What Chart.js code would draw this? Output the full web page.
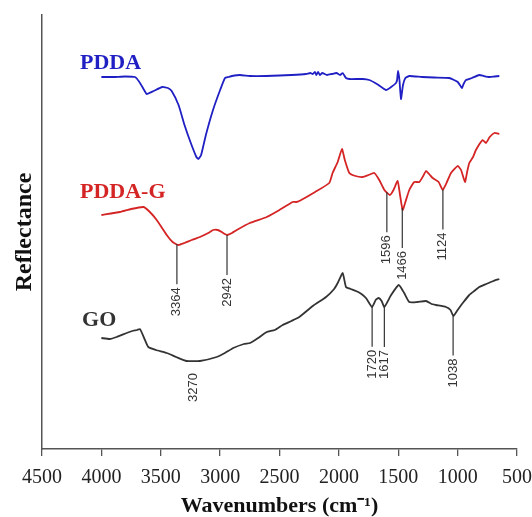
<!DOCTYPE html>
<html>
<head>
<meta charset="utf-8">
<script src="https://cdn.jsdelivr.net/npm/chart.js@4.4.1/dist/chart.umd.min.js"></script>
<style>
  html, body { margin: 0; padding: 0; background: #fff; }
  #wrap { width: 532px; height: 517px; }
</style>
</head>
<body>
<div id="wrap"><canvas id="ftir"></canvas></div>
<script>
// x axis ticks (cm-1), axis runs high -> low
const xTicks = [4500, 4000, 3500, 3000, 2500, 2000, 1500, 1000, 500];

// PDDA spectrum (wavenumber, reflectance in arbitrary units)
const pddaWn = [4000, 3900, 3800, 3717, 3680, 3640, 3618, 3560, 3487, 3440, 3408, 3350, 3300, 3250, 3200, 3184, 3160, 3120, 3060, 3000,
  2959, 2930, 2900, 2833, 2750, 2614, 2500, 2400, 2277, 2240, 2220, 2200, 2190, 2175, 2160, 2140, 2100, 2060, 2020, 1990,
  1968, 1940, 1912, 1800, 1744, 1680, 1603, 1560, 1519, 1510, 1502, 1490, 1477, 1460, 1440, 1407, 1300, 1200, 1070, 1030,
  999, 975, 963, 950, 930, 880, 817, 780, 733, 690, 649];
const pddaVal = [372, 372, 372.5, 372, 367, 359, 355, 358, 362, 361, 358, 344, 324, 307, 292, 290, 294, 314, 339, 359,
  371, 372, 373, 374, 373, 373, 373.5, 374, 375, 376, 375, 377, 374, 377, 374, 376, 374, 375, 376, 374,
  376, 371, 370, 370, 369, 365, 359, 362, 366, 369, 378, 369, 350, 364, 371, 373, 372, 371.5, 371, 369,
  367, 363, 361, 365, 369, 371, 374, 373, 372, 372.5, 373];

// PDDA-G spectrum
const pddagWn = [4000, 3843, 3750, 3647, 3600, 3534, 3450, 3400, 3352, 3300, 3240, 3170, 3100, 3058, 3020, 2987, 2960, 2940, 2900, 2860,
  2750, 2608, 2500, 2389, 2360, 2333, 2200, 2081, 2053, 2010, 1974, 1950, 1912, 1860, 1800, 1750, 1702, 1660, 1617, 1570,
  1540, 1505, 1485, 1463, 1440, 1407, 1365, 1323, 1290, 1266, 1240, 1210, 1160, 1126, 1090, 1056, 999, 971, 938, 920,
  902, 870, 846, 789, 761, 730, 691, 649];
const pddagVal = [234, 237, 240, 242, 238, 229, 214, 207, 204, 206, 209, 212, 216, 219, 219, 217, 215, 214, 216, 219,
  226, 232, 239, 247, 247, 248, 257, 266, 276, 287, 300, 289, 276, 273, 272, 274, 276, 269, 259, 254,
  259, 268, 254, 239, 247, 259, 267, 267, 273, 278, 275, 271, 267, 259, 267, 276, 283, 279, 267, 277,
  286, 292, 299, 309, 306, 312, 316, 315];

// GO spectrum
const goWn = [4000, 3930, 3871, 3787, 3740, 3700, 3675, 3640, 3605, 3540, 3450, 3370, 3282, 3170, 3029, 2960, 2889, 2800, 2748, 2680,
  2608, 2540, 2473, 2400, 2333, 2220, 2108, 2040, 2010, 1968, 1940, 1900, 1856, 1810, 1772, 1721, 1690, 1665, 1640, 1617,
  1560, 1496, 1450, 1407, 1340, 1266, 1220, 1182, 1098, 1060, 1036, 1000, 950, 902, 860, 817, 760, 700, 649];
const goVal = [111, 110, 112, 116, 118, 119, 120, 111, 102, 99, 96, 92, 88, 88, 92, 96, 101, 105, 106, 111,
  117, 119, 124, 128, 132, 143, 152, 160, 166, 176, 162, 160, 158, 155, 151, 142, 149, 151, 148, 142,
  154, 164, 156, 147, 147, 148, 145, 144, 142, 139, 133, 139, 147, 154, 158, 162, 165, 168, 170];

// marked bands
const peakSeries = ['PDDA-G', 'PDDA-G', 'PDDA-G', 'PDDA-G', 'PDDA-G', 'GO', 'GO', 'GO', 'GO'];
const peakWn = [3364, 2942, 1596, 1466, 1124, 3270, 1720, 1617, 1038];
const peakLine = [true, true, true, true, true, false, true, true, true];

const seriesNames = ['PDDA', 'PDDA-G', 'GO'];
const seriesColors = ['#1f1fc4', '#d42424', '#333333'];

const toPoints = (wn, val) => wn.map((w, i) => ({ x: w, y: val[i] }));

const curveAt = (pts, w) => {
  for (let i = 0; i < pts.length - 1; i++) {
    if (pts[i].x >= w && pts[i + 1].x <= w) {
      const t = (pts[i].x - w) / (pts[i].x - pts[i + 1].x);
      return pts[i].y + t * (pts[i + 1].y - pts[i].y);
    }
  }
  return pts[pts.length - 1].y;
};

const datasets = [
  { label: seriesNames[0], data: toPoints(pddaWn, pddaVal) },
  { label: seriesNames[1], data: toPoints(pddagWn, pddagVal) },
  { label: seriesNames[2], data: toPoints(goWn, goVal) }
].map((d, i) => ({
  ...d,
  borderColor: seriesColors[i],
  borderWidth: 1.8,
  pointRadius: 0,
  tension: 0.15,
  fill: false
}));

// name tags and peak annotations
const annotate = {
  id: 'annotate',
  afterDatasetsDraw(chart) {
    const ctx = chart.ctx;
    const xs = chart.scales.x, ys = chart.scales.y;
    ctx.save();

    // series names, anchored in data space
    const nameAt = [[4180, 386], [4180, 257], [4163, 129]];
    ctx.font = 'bold 22px "Liberation Serif", serif';
    ctx.textAlign = 'left';
    ctx.textBaseline = 'middle';
    seriesNames.forEach((n, i) => {
      ctx.fillStyle = seriesColors[i];
      ctx.fillText(n, xs.getPixelForValue(nameAt[i][0]), ys.getPixelForValue(nameAt[i][1]));
    });

    // drop lines + rotated wavenumber labels
    ctx.strokeStyle = '#333';
    ctx.fillStyle = '#333';
    ctx.lineWidth = 1.2;
    ctx.font = '13px "Liberation Sans", Arial, sans-serif';
    peakWn.forEach((w, i) => {
      const ds = datasets[seriesNames.indexOf(peakSeries[i])];
      const px = xs.getPixelForValue(w);
      const py = ys.getPixelForValue(curveAt(ds.data, w));
      let end = py;
      if (peakLine[i]) {
        end = py + 40;
        ctx.beginPath();
        ctx.moveTo(px, py);
        ctx.lineTo(px, end);
        ctx.stroke();
        end += 3;
      } else {
        end += 12;
      }
      ctx.save();
      ctx.translate(peakLine[i] ? px : px + 5, end);
      ctx.rotate(-Math.PI / 2);
      ctx.textAlign = 'right';
      ctx.textBaseline = 'middle';
      ctx.fillText(String(w), 0, 0);
      ctx.restore();
    });
    ctx.restore();
  }
};

new Chart(document.getElementById('ftir'), {
  type: 'line',
  data: { datasets },
  options: {
    responsive: true,
    maintainAspectRatio: false,
    animation: false,
    layout: { padding: { top: 15, right: 0, left: 0, bottom: 0 } },
    plugins: {
      legend: { display: false },
      tooltip: { enabled: false }
    },
    scales: {
      x: {
        type: 'linear',
        min: 500,
        max: 4500,
        reverse: true,
        afterBuildTicks: (scale) => { scale.ticks = xTicks.map(v => ({ value: v })); },
        afterFit: (scale) => {
          scale.height = 68;
          scale.paddingLeft = 0;
          scale.paddingRight = 15;
        },
        grid: { display: true, drawOnChartArea: false, drawTicks: true, tickLength: 7, color: '#555', lineWidth: 1.3 },
        border: { display: true, color: '#555', width: 1.5 },
        ticks: {
          padding: 12,
          color: '#222',
          maxRotation: 0,
          autoSkip: false,
          callback: (v) => String(v),
          font: { family: '"Liberation Serif", serif', size: 20, lineHeight: 1 }
        },
        title: {
          display: true,
          text: 'Wavenumbers (cm⁻¹)',
          color: '#111',
          padding: { top: 0, bottom: 0 },
          font: { family: '"Liberation Serif", serif', size: 22, weight: 'bold', lineHeight: 1 }
        }
      },
      y: {
        type: 'linear',
        min: 0,
        max: 434,
        afterFit: (scale) => { scale.width = 42; },
        grid: { display: false },
        border: { display: true, color: '#555', width: 1.5 },
        ticks: { display: false },
        title: {
          display: true,
          text: 'Reflectance',
          color: '#111',
          padding: { top: 13, bottom: 0 },
          font: { family: '"Liberation Serif", serif', size: 24, weight: 'bold', lineHeight: 1 }
        }
      }
    }
  },
  plugins: [annotate]
});
</script>
</body>
</html>
